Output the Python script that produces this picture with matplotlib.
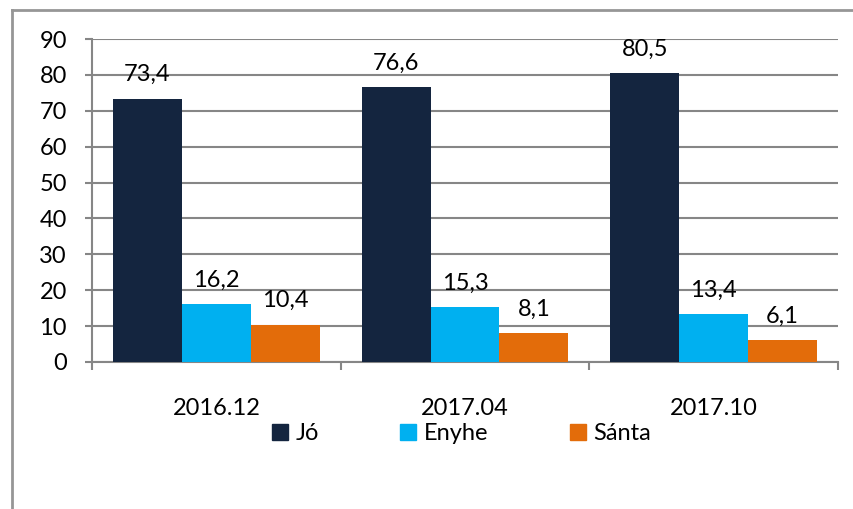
import matplotlib
matplotlib.use("Agg")
import matplotlib.pyplot as plt
import numpy as np
from matplotlib.lines import Line2D
from matplotlib.patches import Patch

plt.rcParams['font.family'] = ['Lato', 'DejaVu Sans']

categories = ["2016.12", "2017.04", "2017.10"]
series_names = ["Jó", "Enyhe", "Sánta"]
jo = [73.4, 76.6, 80.5]
enyhe = [16.2, 15.3, 13.4]
santa = [10.4, 8.1, 6.1]
colors = ["#14253F", "#00B0F0", "#E36C0A"]
yticks = [0, 10, 20, 30, 40, 50, 60, 70, 80, 90]

W, H = 854, 509
fig = plt.figure(figsize=(W / 100, H / 100), dpi=100)
ax = fig.add_axes([92 / W, 1 - 362 / H, (838 - 92) / W, (362 - 39) / H])

FS = 17
gray = "#868686"
x = np.arange(len(categories))
bw = 69 / 249
for i, (vals, name, c) in enumerate(zip([jo, enyhe, santa], series_names, colors)):
    pos = x + (i - 1) * bw
    ax.bar(pos, vals, width=bw, color=c, label=name, zorder=3)
    for p, v in zip(pos, vals):
        ax.annotate(f"{v:.1f}".replace(".", ","), (p, v), xytext=(0, 12.5),
                    textcoords="offset points", ha="center", va="baseline",
                    fontsize=FS, color="#000000", zorder=4)

ax.set_xlim(-0.5, len(categories) - 0.5)
ax.set_ylim(0, 90)
ax.set_yticks(yticks)
ax.yaxis.grid(True, color=gray, linewidth=1.5, zorder=0)
ax.set_axisbelow(True)

ax.set_xticks(x)
ax.set_xticklabels(categories, fontsize=FS)
ax.set_xticks(np.arange(len(categories) + 1) - 0.5, minor=True)
ax.tick_params(axis="x", which="major", length=0, pad=26)
ax.tick_params(axis="x", which="minor", length=6, width=1.5, color=gray, direction="out")
ax.tick_params(axis="y", length=5, width=1.5, color=gray, pad=13, labelsize=FS)

for s in ["top", "right"]:
    ax.spines[s].set_visible(False)
for s in ["left", "bottom"]:
    ax.spines[s].set_color(gray)
    ax.spines[s].set_linewidth(1.5)

handles = [Patch(color=c) for c in colors]
fig.legend(handles, series_names, loc="center left", bbox_to_anchor=(272 / W, 1 - 434 / H),
           ncol=3, frameon=False, fontsize=FS, handlelength=0.66, handleheight=0.66,
           handletextpad=0.34, columnspacing=3.45, borderaxespad=0, borderpad=0)

# outer frame
fig.add_artist(Line2D([12 / W, 12 / W], [0, 1 - 10 / H], color="#969696", linewidth=2, transform=fig.transFigure))
fig.add_artist(Line2D([12 / W, 1], [1 - 10 / H, 1 - 10 / H], color="#969696", linewidth=2, transform=fig.transFigure))

fig.savefig("out.png", dpi=100)
